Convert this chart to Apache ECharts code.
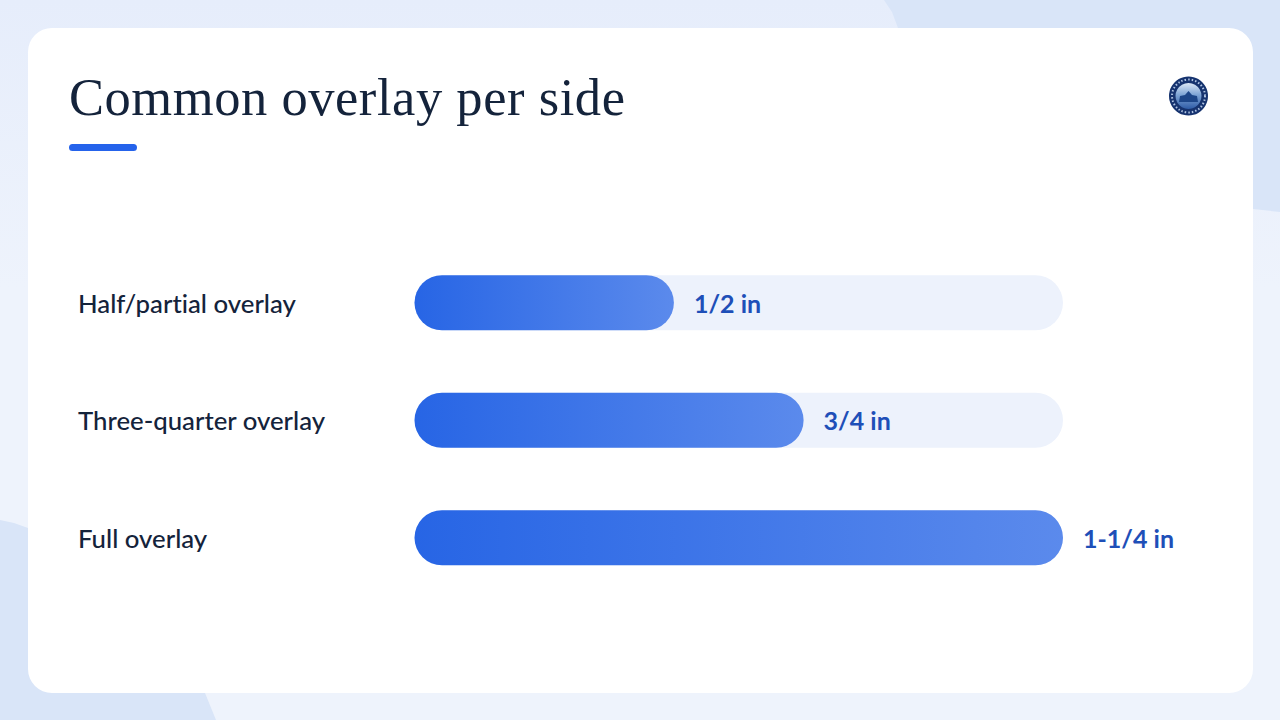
<!DOCTYPE html>
<html><head><meta charset="utf-8">
<style>
html,body{margin:0;padding:0;background:#edf2fc}
#c{width:1280px;height:720px}
text{font-variant-ligatures:none}
text[style*="Liberation Serif"]{letter-spacing:0.55px}
</style>
<script src="https://cdn.jsdelivr.net/npm/echarts@6/dist/echarts.min.js"></script>
</head><body><div id="c"></div>
<script>
const categories = ['Half/partial overlay', 'Three-quarter overlay', 'Full overlay'];
const overlayInches = [0.5, 0.75, 1.25];
const valueLabels = ['1/2 in', '3/4 in', '1-1/4 in'];
const axisMax = 1.25;
const titleText = 'Common overlay per side';

const chart = echarts.init(document.getElementById('c'), null, { renderer: 'svg' });
const sansFont = 'Lato';
const dark = '#D9E5F8';
chart.setOption({
  animation: false,
  backgroundColor: 'transparent',
  title: {
    text: titleText, left: 69, top: 68, padding: 0,
    textStyle: { fontFamily: 'Liberation Serif', fontSize: 52.5, fontWeight: 400, color: '#14233B', lineHeight: 58 }
  },
  grid: { left: 414.5, top: 244, width: 648.5, height: 352.5, containLabel: false },
  xAxis: { type: 'value', min: 0, max: axisMax, show: false },
  yAxis: {
    type: 'category', data: categories, inverse: true,
    axisLine: { show: false }, axisTick: { show: false }, splitLine: { show: false },
    axisLabel: { align: 'left', margin: 336.5, padding: [3, 0, 0, 0], fontFamily: sansFont, fontSize: 25.75, fontWeight: 500, color: '#14233B' }
  },
  series: [{
    type: 'bar', data: overlayInches, barWidth: 55,
    showBackground: true,
    backgroundStyle: { color: '#EDF2FC', borderRadius: 27.5 },
    itemStyle: {
      borderRadius: 27.5,
      color: new echarts.graphic.LinearGradient(0, 0, 1, 0, [
        { offset: 0, color: '#2765E5' }, { offset: 1, color: '#5B8AEC' }
      ])
    },
    label: {
      show: true, position: 'right', distance: 20, padding: [3, 0, 0, 0],
      formatter: p => valueLabels[p.dataIndex],
      fontFamily: sansFont, fontSize: 25, fontWeight: 700, color: '#1E4FB8'
    }
  }],
  graphic: [
    { type: 'rect', z: -10, silent: true, shape: { x: 0, y: 0, width: 1280, height: 720 },
      style: { fill: new echarts.graphic.LinearGradient(0, 0, 0, 1, [
        { offset: 0, color: '#E6EDFB' }, { offset: 0.4, color: '#EEF3FC' }, { offset: 1, color: '#EEF3FC' }
      ]) } },
    { type: 'polygon', z: -9, silent: true, shape: { points: [[884,0],[1280,0],[1280,212],[1253,209],[1200,205],[1200,60],[898,28],[892,12]] }, style: { fill: dark } },
    { type: 'polygon', z: -9, silent: true, shape: { points: [[0,520],[14,523],[28,528],[80,540],[80,660],[205,693],[216,720],[0,720]] }, style: { fill: dark } },
    { type: 'rect', z: -8, silent: true, shape: { x: 28, y: 28, width: 1225, height: 665, r: 24 }, style: { fill: '#FFFFFF' } },
    { type: 'rect', z: 5, silent: true, shape: { x: 69, y: 144, width: 68, height: 7, r: 3.5 }, style: { fill: '#2563EB' } },
    { type: 'circle', z: 5, silent: true, shape: { cx: 1188.5, cy: 96, r: 19.5 }, style: { fill: '#16336F' } },
    { type: 'circle', z: 5, silent: true, shape: { cx: 1188.5, cy: 96, r: 16.5 }, style: { fill: 'none', stroke: '#AFC3E2', lineWidth: 2, lineDash: [1.5, 2] } },
    { type: 'circle', z: 6, silent: true, shape: { cx: 1188.5, cy: 96, r: 13 },
      style: { fill: new echarts.graphic.LinearGradient(0, 0, 0, 1, [
        { offset: 0, color: '#DCE8F6' }, { offset: 0.45, color: '#7FA5D6' }, { offset: 1, color: '#2F5CA6' }
      ]) } },
    { type: 'polygon', z: 7, silent: true, shape: { points: [[1179,102],[1180,96],[1185,95],[1188.5,91],[1192,95],[1197,96],[1198,102]] }, style: { fill: '#1D4689' } }
  ]
});
</script></body></html>
